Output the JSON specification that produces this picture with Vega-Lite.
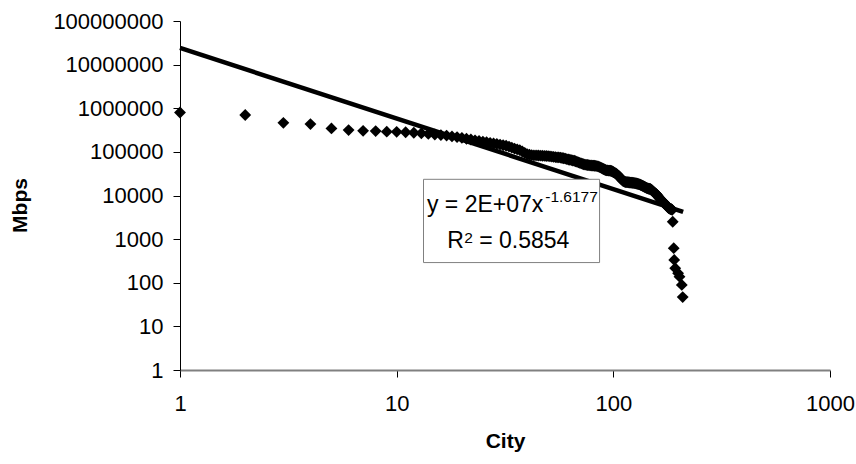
{
  "$schema": "https://vega.github.io/schema/vega-lite/v6.json",
  "width": 650,
  "height": 349,
  "autosize": "none",
  "padding": {"left": 180, "top": 21, "right": 26, "bottom": 94},
  "background": "white",
  "config": {"view": {"stroke": null}, "font": "Liberation Sans", "axis": {"grid": false}},
  "datasets": {
    "points": [
      {"city":1,"mbps":800000},{"city":2,"mbps":700000},{"city":3,"mbps":463000},{"city":4,"mbps":433000},{"city":5,"mbps":345000},
      {"city":6,"mbps":316000},{"city":7,"mbps":304000},{"city":8,"mbps":299000},{"city":9,"mbps":290000},{"city":10,"mbps":288000},
      {"city":11,"mbps":282000},{"city":12,"mbps":275000},{"city":13,"mbps":266000},{"city":14,"mbps":258000},{"city":15,"mbps":250000},
      {"city":16,"mbps":243000},{"city":17,"mbps":236000},{"city":18,"mbps":226000},{"city":19,"mbps":218000},{"city":20,"mbps":210000},
      {"city":21,"mbps":200000},{"city":22,"mbps":192000},{"city":23,"mbps":184000},{"city":24,"mbps":178000},{"city":25,"mbps":172000},
      {"city":26,"mbps":166000},{"city":27,"mbps":160000},{"city":28,"mbps":156000},{"city":29,"mbps":152000},{"city":30,"mbps":147000},
      {"city":31,"mbps":142000},{"city":32,"mbps":138000},{"city":33,"mbps":132000},{"city":34,"mbps":125000},{"city":35,"mbps":119000},
      {"city":36,"mbps":114000},{"city":37,"mbps":110000},{"city":38,"mbps":102000},{"city":39,"mbps":95000},{"city":40,"mbps":89000},
      {"city":41,"mbps":86000},{"city":42,"mbps":84000},{"city":43,"mbps":83500},{"city":44,"mbps":83000},{"city":45,"mbps":82500},
      {"city":46,"mbps":82000},{"city":47,"mbps":81500},{"city":48,"mbps":81000},{"city":49,"mbps":80500},{"city":50,"mbps":80000},
      {"city":51,"mbps":79000},{"city":52,"mbps":78000},{"city":53,"mbps":77000},{"city":54,"mbps":76000},{"city":55,"mbps":75000},
      {"city":56,"mbps":74500},{"city":57,"mbps":73500},{"city":58,"mbps":72500},{"city":59,"mbps":71500},{"city":60,"mbps":70000},
      {"city":61,"mbps":68500},{"city":62,"mbps":67000},{"city":63,"mbps":66000},{"city":64,"mbps":64500},{"city":65,"mbps":63500},
      {"city":66,"mbps":62500},{"city":67,"mbps":61000},{"city":68,"mbps":59000},{"city":69,"mbps":57500},{"city":70,"mbps":56000},
      {"city":71,"mbps":54500},{"city":72,"mbps":53000},{"city":73,"mbps":52000},{"city":74,"mbps":51000},{"city":75,"mbps":50500},
      {"city":76,"mbps":50000},{"city":77,"mbps":49500},{"city":78,"mbps":49000},{"city":79,"mbps":48800},{"city":80,"mbps":48500},
      {"city":81,"mbps":48200},{"city":82,"mbps":48000},{"city":83,"mbps":47600},{"city":84,"mbps":47200},{"city":85,"mbps":46500},
      {"city":86,"mbps":45500},{"city":87,"mbps":44000},{"city":88,"mbps":43000},{"city":89,"mbps":41500},{"city":90,"mbps":40500},
      {"city":91,"mbps":39500},{"city":92,"mbps":38500},{"city":93,"mbps":37800},{"city":94,"mbps":37500},{"city":95,"mbps":37300},
      {"city":96,"mbps":37100},{"city":97,"mbps":37000},{"city":98,"mbps":36500},{"city":99,"mbps":35500},{"city":100,"mbps":34500},
      {"city":101,"mbps":33500},{"city":102,"mbps":32500},{"city":103,"mbps":31500},{"city":104,"mbps":30500},{"city":105,"mbps":29000},
      {"city":106,"mbps":28000},{"city":107,"mbps":26500},{"city":108,"mbps":25000},{"city":109,"mbps":23500},{"city":110,"mbps":22500},
      {"city":111,"mbps":21500},{"city":112,"mbps":21000},{"city":113,"mbps":20600},{"city":114,"mbps":20400},{"city":115,"mbps":20300},
      {"city":116,"mbps":20200},{"city":117,"mbps":20100},{"city":118,"mbps":20000},{"city":119,"mbps":19900},{"city":120,"mbps":19800},
      {"city":121,"mbps":19700},{"city":122,"mbps":19600},{"city":123,"mbps":19500},{"city":124,"mbps":19400},{"city":125,"mbps":19300},
      {"city":126,"mbps":19200},{"city":127,"mbps":19000},{"city":128,"mbps":18800},{"city":129,"mbps":18600},{"city":130,"mbps":18400},
      {"city":131,"mbps":18200},{"city":132,"mbps":18000},{"city":133,"mbps":17700},{"city":134,"mbps":17400},{"city":135,"mbps":17100},
      {"city":136,"mbps":16800},{"city":137,"mbps":16500},{"city":138,"mbps":16200},{"city":139,"mbps":15900},{"city":140,"mbps":15600},
      {"city":141,"mbps":15300},{"city":142,"mbps":15000},{"city":143,"mbps":14800},{"city":144,"mbps":14600},{"city":145,"mbps":14400},
      {"city":146,"mbps":14300},{"city":147,"mbps":14200},{"city":148,"mbps":14100},{"city":149,"mbps":13800},{"city":150,"mbps":13400},
      {"city":151,"mbps":13000},{"city":152,"mbps":12600},{"city":153,"mbps":12200},{"city":154,"mbps":11800},{"city":155,"mbps":11500},
      {"city":156,"mbps":11200},{"city":157,"mbps":10900},{"city":158,"mbps":10700},{"city":159,"mbps":10300},{"city":160,"mbps":9900},
      {"city":161,"mbps":9500},{"city":162,"mbps":9100},{"city":163,"mbps":8800},{"city":164,"mbps":8500},{"city":165,"mbps":8200},
      {"city":166,"mbps":7900},{"city":167,"mbps":7600},{"city":168,"mbps":7400},{"city":169,"mbps":7200},{"city":170,"mbps":7100},
      {"city":171,"mbps":6900},{"city":172,"mbps":6700},{"city":173,"mbps":6500},{"city":174,"mbps":6300},{"city":175,"mbps":6100},
      {"city":176,"mbps":5900},{"city":177,"mbps":5700},{"city":178,"mbps":5500},{"city":179,"mbps":5300},{"city":180,"mbps":5200},
      {"city":181,"mbps":5100},{"city":182,"mbps":5000},{"city":183,"mbps":4950},{"city":184,"mbps":4900},{"city":185,"mbps":4850},
      {"city":186,"mbps":4800},{"city":187,"mbps":4700},
      {"city":188,"mbps":2500},{"city":190,"mbps":620},{"city":191,"mbps":334},{"city":193,"mbps":216},{"city":199,"mbps":166},
      {"city":202,"mbps":138},{"city":207,"mbps":89},{"city":209,"mbps":47}
    ],
    "trend": [
      {"city":1,"mbps":24100000},{"city":210,"mbps":4218}
    ],
    "box": [
      {"city":13.3,"city2":86.4,"mbps":23500,"mbps2":290}
    ],
    "bigtext": [
      {"city":13.8,"mbps":4260,"t":"y = 2E+07x"},
      {"city":17.11,"mbps":638,"t":"R"},
      {"city":24.05,"mbps":638,"t":"= 0.5854"}
    ],
    "suptext": [
      {"city":48.5,"mbps":7210,"t":"-1.6177"},
      {"city":20.5,"mbps":818,"t":"2"}
    ]
  },
  "layer": [
    {
      "data": {"name": "points"},
      "mark": {"type": "point", "shape": "diamond", "filled": true, "color": "black", "size": 140, "opacity": 1},
      "encoding": {
        "x": {"field": "city", "type": "quantitative",
          "scale": {"type": "log", "domain": [1, 1000], "nice": false},
          "axis": {"values": [1, 10, 100, 1000], "format": "d", "title": "City", "titleFontSize": 21, "titleFontWeight": "bold", "titleColor": "black",
            "labelFontSize": 22, "labelColor": "black", "tickSize": 7, "tickColor": "black", "domainColor": "#808080", "domainWidth": 2,
            "labelPadding": 16, "titlePadding": 16, "labelFlush": false, "labelOverlap": false}},
        "y": {"field": "mbps", "type": "quantitative",
          "scale": {"type": "log", "domain": [1, 100000000], "nice": false},
          "axis": {"values": [1, 10, 100, 1000, 10000, 100000, 1000000, 10000000, 100000000], "format": "d", "title": "Mbps", "titleFontSize": 21, "titleFontWeight": "bold", "titleColor": "black",
            "labelFontSize": 22, "labelColor": "black", "tickSize": 7, "tickColor": "black", "domainColor": "black", "domainWidth": 1,
            "labelPadding": 10, "titlePadding": 22, "titleY": 184, "labelFlush": false, "labelOverlap": false}}
      }
    },
    {
      "data": {"name": "trend"},
      "mark": {"type": "line", "color": "black", "strokeWidth": 4.5},
      "encoding": {
        "x": {"field": "city", "type": "quantitative"},
        "y": {"field": "mbps", "type": "quantitative"}
      }
    },
    {
      "data": {"name": "box"},
      "mark": {"type": "rect", "fill": "white", "stroke": "#808080", "strokeWidth": 1},
      "encoding": {
        "x": {"field": "city", "type": "quantitative"},
        "x2": {"field": "city2"},
        "y": {"field": "mbps", "type": "quantitative"},
        "y2": {"field": "mbps2"}
      }
    },
    {
      "data": {"name": "bigtext"},
      "mark": {"type": "text", "align": "left", "baseline": "alphabetic", "fontSize": 23, "color": "black"},
      "encoding": {
        "x": {"field": "city", "type": "quantitative"},
        "y": {"field": "mbps", "type": "quantitative"},
        "text": {"field": "t"}
      }
    },
    {
      "data": {"name": "suptext"},
      "mark": {"type": "text", "align": "left", "baseline": "alphabetic", "fontSize": 15.5, "color": "black"},
      "encoding": {
        "x": {"field": "city", "type": "quantitative"},
        "y": {"field": "mbps", "type": "quantitative"},
        "text": {"field": "t"}
      }
    }
  ]
}
